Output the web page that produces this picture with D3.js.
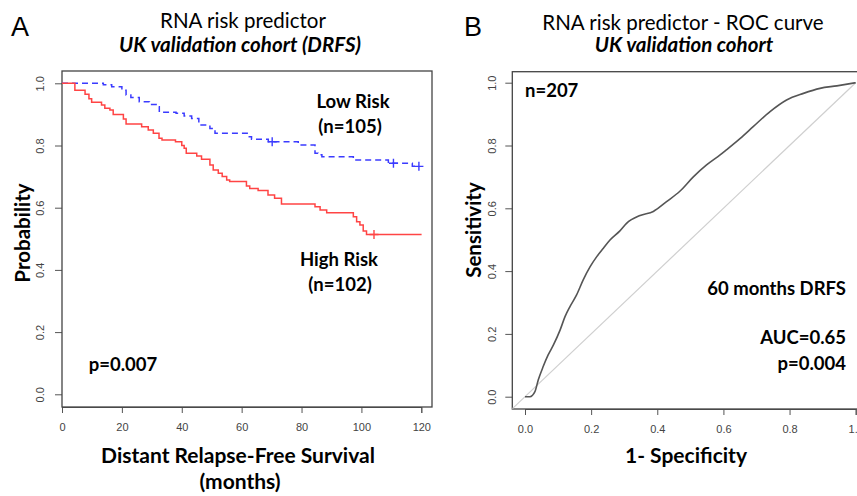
<!DOCTYPE html>
<html>
<head>
<meta charset="utf-8">
<script src="https://cdn.jsdelivr.net/npm/d3@7"></script>
<style>
  body { margin: 0; background: #fff; }
  .ttl { font-family: Lato, "Open Sans", sans-serif; }
  .tick text { font-family: "Liberation Sans", Arial, sans-serif; font-size: 11px; fill: #444; }
  .tick line { stroke: #555; }
</style>
</head>
<body>
<div class="chart"></div>
<script>
// Kaplan-Meier steps [month, survival]
var lowRiskSteps = [[0,1.0],[13.8,0.995],[16.6,0.989],[20,0.978],[21.4,0.962],[23,0.954],[25.8,0.941],
    [29.2,0.932],[32,0.925],[32.5,0.907],[38.1,0.904],[40.8,0.895],[43.3,0.887],[45.7,0.866],[49.4,0.855],
    [51.1,0.839],[62.2,0.828],[63.3,0.820],[68.9,0.812],[78.9,0.802],[84.5,0.775],[85.5,0.770],[86.8,0.764],
    [97.3,0.753],[109,0.743],[117,0.733],[119.2,0.733]];
var lowRiskCensor = [[70.2,0.812],[110.7,0.743],[119.2,0.733]];

var highRiskSteps = [[0,1.0],[4.3,0.978],[7.7,0.965],[9.0,0.95],[9.9,0.939],[13.2,0.930],[14.3,0.920],
    [16,0.914],[17.1,0.900],[20.5,0.885],[21.4,0.869],[26.6,0.860],[28.8,0.850],[30.5,0.839],[32.4,0.823],
    [33.4,0.818],[37.9,0.812],[40,0.800],[40.8,0.791],[41.5,0.775],[45,0.766],[46.6,0.756],[49.4,0.737],
    [50.5,0.721],[52.2,0.711],[53.5,0.700],[55,0.689],[56,0.684],[61.6,0.670],[62.7,0.662],[65.5,0.655],
    [68.8,0.641],[71,0.630],[73.3,0.612],[84.5,0.603],[86.2,0.593],[88.4,0.584],[97.3,0.571],[98.4,0.555],
    [99.5,0.544],[100.6,0.525],[101.7,0.514],[120.1,0.514]];
var highRiskCensor = [[104.2,0.514]];

// ROC curve [1-specificity, sensitivity]
var rocPoints = [[0,0],[0.015,0],[0.03,0.016],[0.04,0.053],[0.055,0.096],[0.07,0.133],[0.086,0.165],
    [0.106,0.212],[0.121,0.255],[0.136,0.287],[0.156,0.324],[0.176,0.372],[0.197,0.414],[0.217,0.446],
    [0.237,0.473],[0.257,0.499],[0.287,0.528],[0.307,0.552],[0.348,0.577],[0.388,0.590],[0.428,0.621],
    [0.469,0.655],[0.509,0.700],[0.549,0.738],[0.59,0.770],[0.61,0.787],[0.65,0.822],[0.69,0.860],
    [0.741,0.908],[0.791,0.945],[0.842,0.966],[0.892,0.982],[0.943,0.990],[1,1]];

var kmXTicks = [0, 20, 40, 60, 80, 100, 120];
var probTicks = [0, 0.2, 0.4, 0.6, 0.8, 1.0];
var rocTicks = [0, 0.2, 0.4, 0.6, 0.8, 1.0];

var svg = d3.select(".chart").append("svg")
    .attr("width", 857)
    .attr("height", 496);

function label(x, y, txt, size, opts) {
    opts = opts || {};
    var t = svg.append("text")
        .attr("class", "ttl")
        .attr("x", x).attr("y", y)
        .attr("font-size", size)
        .attr("font-weight", opts.bold ? "bold" : "normal")
        .attr("font-style", opts.italic ? "italic" : "normal")
        .attr("text-anchor", opts.anchor || "middle")
        .attr("fill", "#000")
        .text(txt);
    if (opts.family) t.style("font-family", opts.family);
    if (opts.rotate) t.attr("transform", "rotate(-90," + x + "," + y + ")");
    return t;
}

function rotateYLabels(g, offset) {
    g.selectAll(".tick text")
        .attr("x", 0)
        .attr("y", -offset)
        .attr("dy", 0)
        .attr("text-anchor", "middle")
        .attr("transform", "rotate(-90)");
}

// ---------- panel A : Kaplan-Meier ----------
var xA = d3.scaleLinear().domain([0, 120]).range([62, 421.3]);
var yA = d3.scaleLinear().domain([0, 1]).range([394.3, 83.3]);

svg.append("g")
    .attr("transform", "translate(0,407)")
    .call(d3.axisBottom(xA).tickValues(kmXTicks).tickFormat(d3.format("d")).tickSize(6).tickPadding(10))
    .call(function (g) { g.select(".domain").attr("stroke", "#555"); });

svg.append("g")
    .attr("transform", "translate(62,0)")
    .call(d3.axisLeft(yA).tickValues(probTicks).tickFormat(d3.format(".1f")).tickSize(7))
    .call(function (g) { g.select(".domain").remove(); rotateYLabels(g, 18); });

svg.append("rect")
    .attr("x", 62).attr("y", 71)
    .attr("width", 370).attr("height", 336)
    .attr("fill", "none").attr("stroke", "#444").attr("stroke-width", 1.3);

var kmLine = d3.line()
    .x(function (d) { return xA(d[0]); })
    .y(function (d) { return yA(d[1]); })
    .curve(d3.curveStepAfter);

svg.append("path").datum(lowRiskSteps)
    .attr("d", kmLine)
    .attr("fill", "none").attr("stroke", "#3b3bff").attr("stroke-width", 1.5)
    .attr("stroke-dasharray", "6,4");

svg.append("path").datum(highRiskSteps)
    .attr("d", kmLine)
    .attr("fill", "none").attr("stroke", "#ff4444").attr("stroke-width", 1.5);

function censor(data, colour) {
    svg.selectAll(null).data(data).enter().append("path")
        .attr("d", function (d) {
            var cx = xA(d[0]), cy = yA(d[1]);
            return "M" + (cx - 4.5) + "," + cy + "H" + (cx + 4.5) + "M" + cx + "," + (cy - 4.5) + "V" + (cy + 4.5);
        })
        .attr("stroke", colour).attr("stroke-width", 1.4);
}
censor(lowRiskCensor, "#3b3bff");
censor(highRiskCensor, "#ff4444");

label(20, 36, "A", 27, {family: "'Liberation Sans', Arial, sans-serif"});
label(243, 28, "RNA risk predictor", 20.5);
label(240, 52, "UK validation cohort (DRFS)", 20.5, {bold: true, italic: true});

label(353, 108, "Low Risk", 18.5, {bold: true});
label(350, 133, "(n=105)", 18.5, {bold: true});
label(339, 266, "High Risk", 18.5, {bold: true});
label(340, 291, "(n=102)", 18.5, {bold: true});
label(123, 371, "p=0.007", 18.5, {bold: true});

label(30, 233, "Probability", 20.5, {bold: true, rotate: true});
label(238, 463, "Distant Relapse-Free Survival", 21, {bold: true});
label(240, 489, "(months)", 21, {bold: true});

// ---------- panel B : ROC ----------
var xB = d3.scaleLinear().domain([0, 1]).range([525, 855.7]);
var yB = d3.scaleLinear().domain([0, 1]).range([396.7, 82.7]);

svg.append("g")
    .attr("transform", "translate(0,409)")
    .call(d3.axisBottom(xB).tickValues(rocTicks).tickFormat(d3.format(".1f")).tickSize(6).tickPadding(10))
    .call(function (g) { g.select(".domain").attr("stroke", "#555"); });

svg.append("g")
    .attr("transform", "translate(512.3,0)")
    .call(d3.axisLeft(yB).tickValues(rocTicks).tickFormat(d3.format(".1f")).tickSize(7))
    .call(function (g) { g.select(".domain").remove(); rotateYLabels(g, 16.5); });

svg.append("rect")
    .attr("x", 512.3).attr("y", 71.7)
    .attr("width", 360).attr("height", 337.3)
    .attr("fill", "none").attr("stroke", "#444").attr("stroke-width", 1.3);

// reference diagonal
svg.append("line")
    .attr("x1", xB(-0.038)).attr("y1", yB(-0.038))
    .attr("x2", xB(1.0)).attr("y2", yB(1.0))
    .attr("stroke", "#cfcfcf").attr("stroke-width", 1.2);

svg.append("path").datum(rocPoints)
    .attr("d", d3.line()
        .x(function (d) { return xB(d[0]); })
        .y(function (d) { return yB(d[1]); })
        .curve(d3.curveMonotoneX))
    .attr("fill", "none").attr("stroke", "#555").attr("stroke-width", 1.6);

label(473, 36, "B", 27, {family: "'Liberation Sans', Arial, sans-serif"});
label(683, 30, "RNA risk predictor - ROC curve", 20.5);
label(684, 52, "UK validation cohort", 20.5, {bold: true, italic: true});

label(525, 97, "n=207", 18.5, {bold: true, anchor: "start"});
label(846, 295, "60 months DRFS", 18.5, {bold: true, anchor: "end"});
label(846, 344, "AUC=0.65", 18.5, {bold: true, anchor: "end"});
label(846, 370, "p=0.004", 18.5, {bold: true, anchor: "end"});

label(481, 230, "Sensitivity", 20.5, {bold: true, rotate: true});
label(686, 463, "1- Specificity", 21, {bold: true});
</script>
</body>
</html>
